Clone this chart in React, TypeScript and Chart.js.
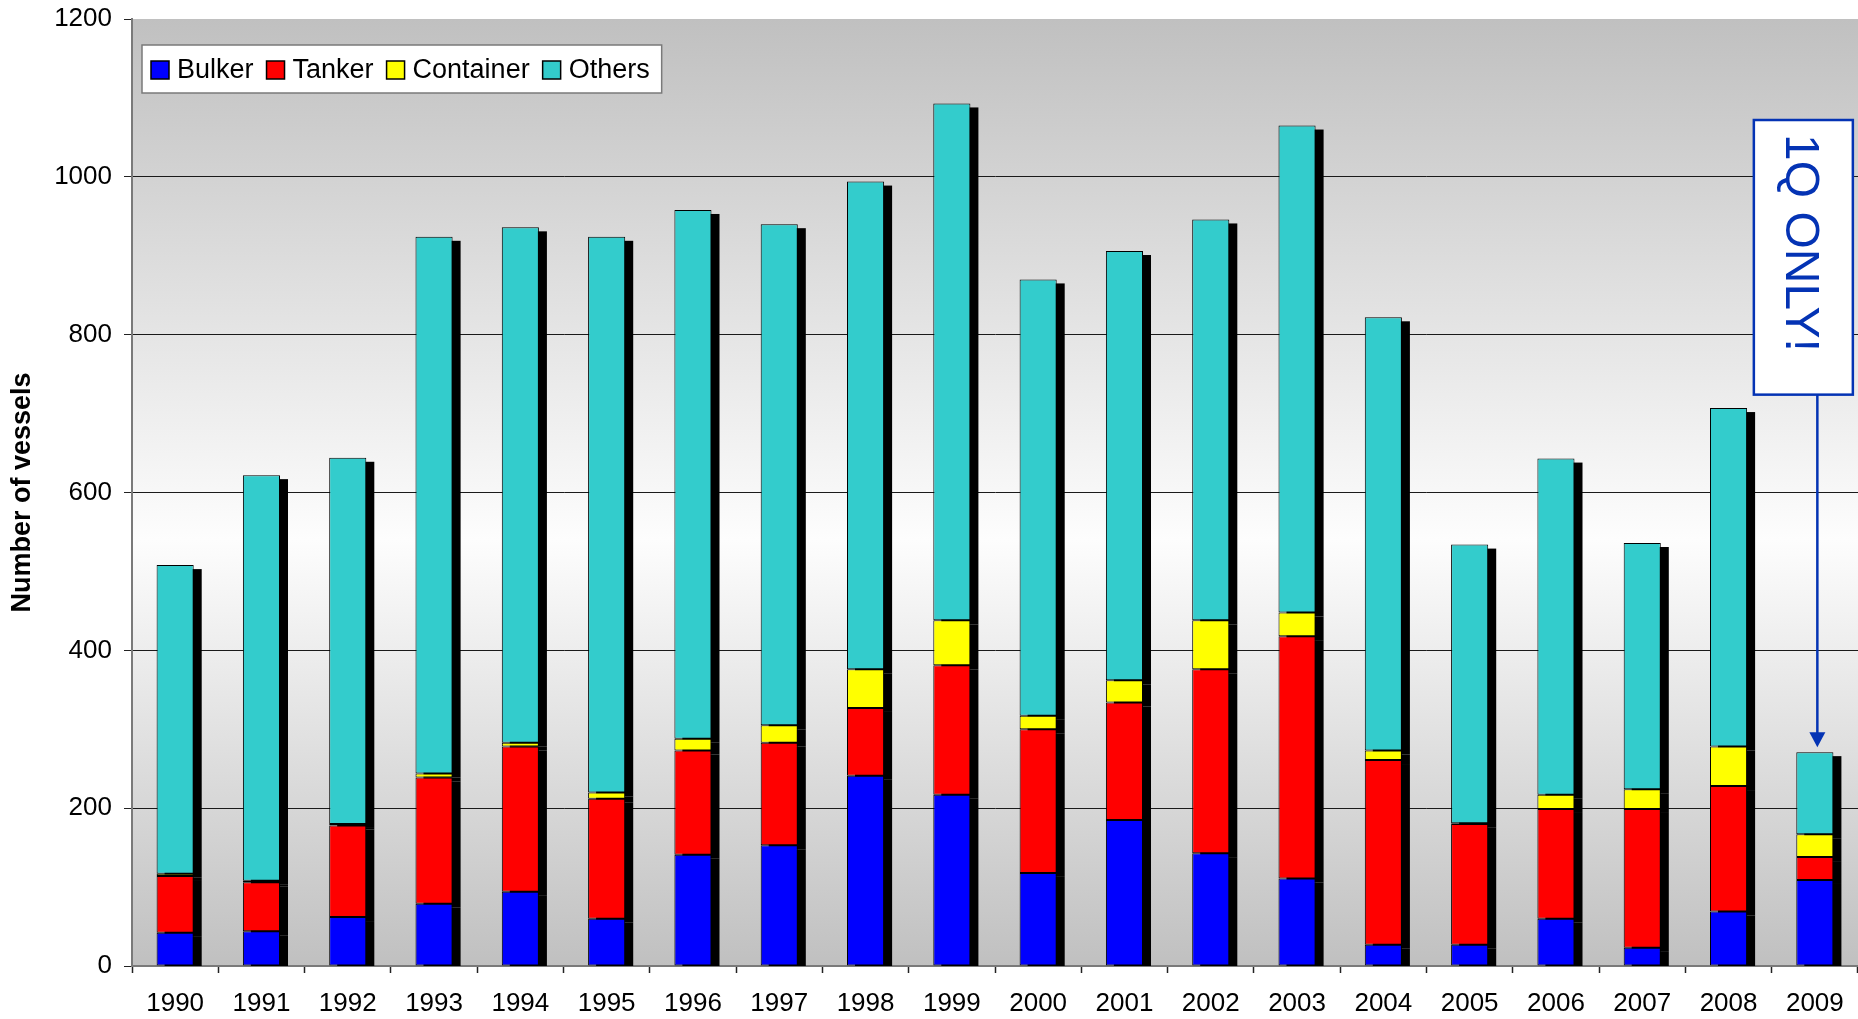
import React, { useEffect, useRef } from 'react';
import { Chart, registerables } from 'chart.js';

Chart.register(...registerables);

// ---------- data ----------
const years = ['1990', '1991', '1992', '1993', '1994', '1995', '1996', '1997', '1998', '1999',
  '2000', '2001', '2002', '2003', '2004', '2005', '2006', '2007', '2008', '2009'];
const bulker = [42, 44, 62, 79, 94, 60, 141, 153, 241, 217, 118, 185, 143, 111, 27, 27, 60, 23, 69, 109];
const tanker = [72, 62, 116, 160, 184, 152, 132, 130, 86, 164, 182, 149, 233, 307, 234, 153, 139, 176, 159, 29];
const container = [3, 2, 2, 5, 5, 8, 15, 22, 49, 57, 17, 28, 62, 30, 12, 1, 18, 25, 50, 29];
const others = [391, 514, 464, 680, 653, 704, 670, 635, 618, 655, 553, 544, 508, 617, 549, 353, 426, 312, 429, 104];

const seriesLabels = ['Bulker', 'Tanker', 'Container', 'Others'];
const seriesColors = ['#0000ff', '#ff0000', '#ffff00', '#33cccc'];

const yMin = 0;
const yMax = 1200;
const yStep = 200;
const yTitle = 'Number of vessels';

const noteText = '1Q ONLY!';
const noteYear = '2009';
const noteTopValue = 1072;
const noteBottomValue = 724;

const FONT = "'Liberation Sans', Arial, Helvetica, sans-serif";
const W = 1858;
const H = 1019;

// ---------- plugins ----------
const backgroundPlugin = {
  id: 'bgGradient',
  beforeDraw(chart: any) {
    const { ctx, chartArea } = chart;
    const { left, top, right, bottom } = chartArea;
    const g = ctx.createLinearGradient(0, top, 0, bottom);
    g.addColorStop(0, '#c0c0c0');
    g.addColorStop(0.55, '#fdfdfd');
    g.addColorStop(1, '#c0c0c0');
    ctx.save();
    ctx.fillStyle = g;
    ctx.fillRect(left, top, right - left, bottom - top);
    ctx.restore();
  },
};

const shadowPlugin = {
  id: 'barShadow',
  beforeDatasetsDraw(chart: any) {
    const { ctx, chartArea } = chart;
    ctx.save();
    ctx.beginPath();
    ctx.rect(chartArea.left, chartArea.top, chartArea.right - chartArea.left, chartArea.bottom - chartArea.top);
    ctx.clip();
    ctx.fillStyle = '#000000';
    chart.data.datasets.forEach((_ds: any, i: number) => {
      const meta = chart.getDatasetMeta(i);
      meta.data.forEach((el: any) => {
        const p = el.getProps(['x', 'y', 'base', 'width'], true);
        const t = Math.min(p.y, p.base);
        const h = Math.abs(p.base - p.y);
        ctx.fillRect(p.x - p.width / 2 + 8, t + 4, p.width, h);
      });
    });
    ctx.restore();
  },
};

const legendPlugin = {
  id: 'insideLegend',
  afterDatasetsDraw(chart: any) {
    const { ctx, chartArea } = chart;
    const x0 = chartArea.left + 10;
    const y0 = chartArea.top + 26;
    const h = 48;
    const sq = 18;
    ctx.save();
    ctx.font = `27px ${FONT}`;
    const widths = chart.data.datasets.map((d: any) => ctx.measureText(d.label).width);
    let total = 9;
    widths.forEach((w: number, i: number) => {
      total += sq + 8 + w + (i < widths.length - 1 ? 13 : 12);
    });
    ctx.fillStyle = '#ffffff';
    ctx.fillRect(x0, y0, total, h);
    ctx.strokeStyle = '#7a7a7a';
    ctx.lineWidth = 1.5;
    ctx.strokeRect(x0, y0, total, h);
    let x = x0 + 9;
    chart.data.datasets.forEach((d: any, i: number) => {
      ctx.fillStyle = d.backgroundColor;
      ctx.fillRect(x, y0 + 16, sq, sq);
      ctx.strokeStyle = '#000000';
      ctx.lineWidth = 1.5;
      ctx.strokeRect(x, y0 + 16, sq, sq);
      ctx.fillStyle = '#000000';
      ctx.textBaseline = 'alphabetic';
      ctx.textAlign = 'left';
      ctx.fillText(d.label, x + sq + 8, y0 + 33);
      x += sq + 8 + widths[i] + 13;
    });
    ctx.restore();
  },
};

const notePlugin = {
  id: 'note',
  afterDraw(chart: any) {
    const { ctx } = chart;
    const xs = chart.scales.x;
    const ys = chart.scales.y;
    const idx = chart.data.labels.indexOf(noteYear);
    const cx = xs.getPixelForValue(idx);
    let total = 0;
    chart.data.datasets.forEach((d: any) => { total += d.data[idx]; });
    const barTop = ys.getPixelForValue(total);
    const top = ys.getPixelForValue(noteTopValue);
    const bottom = ys.getPixelForValue(noteBottomValue);
    const left = cx - 61;
    const width = 99;
    const blue = '#0433b4';
    ctx.save();
    // arrow
    const ax = cx + 2.5;
    ctx.strokeStyle = blue;
    ctx.lineWidth = 2.5;
    ctx.beginPath();
    ctx.moveTo(ax, bottom);
    ctx.lineTo(ax, barTop - 18);
    ctx.stroke();
    ctx.fillStyle = blue;
    ctx.beginPath();
    ctx.moveTo(ax - 8, barTop - 20);
    ctx.lineTo(ax + 8, barTop - 20);
    ctx.lineTo(ax, barTop - 5);
    ctx.closePath();
    ctx.fill();
    // box
    ctx.fillStyle = '#ffffff';
    ctx.fillRect(left, top, width, bottom - top);
    ctx.strokeStyle = blue;
    ctx.lineWidth = 2.5;
    ctx.strokeRect(left, top, width, bottom - top);
    // text rotated clockwise
    ctx.translate(left + width / 2, top + 14);
    ctx.rotate(Math.PI / 2);
    ctx.font = `48px ${FONT}`;
    ctx.fillStyle = blue;
    ctx.textAlign = 'left';
    ctx.textBaseline = 'alphabetic';
    ctx.fillText(noteText, 0, 17);
    ctx.restore();
  },
};

export default function App() {
  const ref = useRef<HTMLCanvasElement | null>(null);

  useEffect(() => {
    if (!ref.current) return;
    const seriesData = [bulker, tanker, container, others];
    const chart = new Chart(ref.current, {
      type: 'bar',
      data: {
        labels: years,
        datasets: seriesLabels.map((label, i) => ({
          label,
          data: seriesData[i],
          backgroundColor: seriesColors[i],
          borderColor: '#000000',
          borderWidth: 1,
          borderSkipped: false,
          barPercentage: 0.43,
          categoryPercentage: 1,
        })),
      },
      options: {
        responsive: false,
        animation: false,
        events: [],
        layout: { padding: { top: 19, right: 0, left: 0, bottom: 0 } },
        plugins: {
          legend: { display: false },
          tooltip: { enabled: false },
          title: { display: false },
        },
        scales: {
          x: {
            stacked: true,
            grid: {
              drawOnChartArea: false,
              drawTicks: true,
              tickLength: 7,
              tickColor: '#222222',
              tickWidth: 1.5,
            },
            border: { display: true, color: '#7a7a7a', width: 2 },
            ticks: {
              color: '#000000',
              font: { family: FONT, size: 26, lineHeight: 1.2 },
              padding: 15,
              maxRotation: 0,
              autoSkip: false,
            },
            afterFit: (s: any) => {
              s.height = 53;
              s.paddingLeft = 0;
              s.paddingRight = 0;
            },
          },
          y: {
            stacked: true,
            min: yMin,
            max: yMax,
            ticks: {
              stepSize: yStep,
              color: '#000000',
              font: { family: FONT, size: 26, lineHeight: 1.2 },
              padding: 12,
              callback: (v: any) => String(v),
            },
            grid: {
              color: (c: any) => (c.tick && (c.tick.value === yMax || c.tick.value === yMin) ? 'rgba(0,0,0,0)' : '#1a1a1a'),
              lineWidth: 1,
              drawTicks: true,
              tickLength: 8,
              tickColor: '#222222',
            },
            border: { display: true, color: '#7a7a7a', width: 2 },
            title: {
              display: true,
              text: yTitle,
              color: '#000000',
              font: { family: FONT, size: 27, weight: 'bold', lineHeight: 1.2 },
              padding: { top: 6, bottom: 0 },
            },
            afterFit: (s: any) => {
              s.width = 132;
              s.paddingTop = 0;
              s.paddingBottom = 0;
            },
          },
        },
      },
      plugins: [backgroundPlugin, shadowPlugin, legendPlugin, notePlugin],
    } as any);
    return () => chart.destroy();
  }, []);

  return (
    <div style={{ position: 'absolute', left: 0, top: 0, width: W, height: H, background: '#ffffff' }}>
      <canvas ref={ref} width={W} height={H} style={{ display: 'block', width: W, height: H }} />
    </div>
  );
}
